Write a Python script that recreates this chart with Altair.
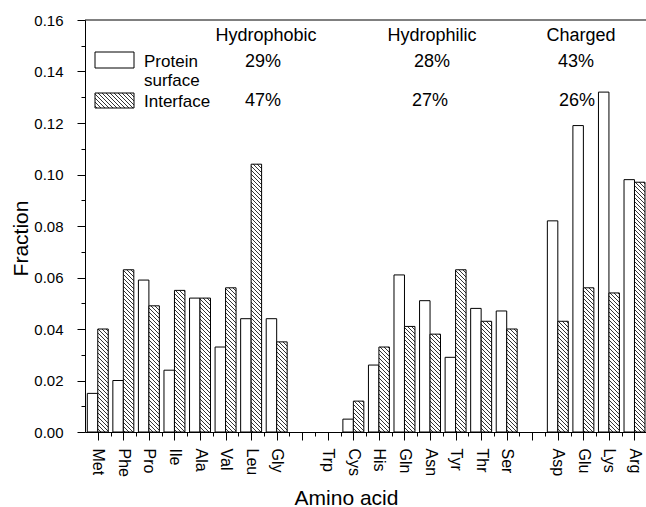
import json
import numpy as np
import pandas as pd
import altair as alt

# ---------------- data ----------------
amino = ["Met", "Phe", "Pro", "Ile", "Ala", "Val", "Leu", "Gly", "",
         "Trp", "Cys", "His", "Gln", "Asn", "Tyr", "Thr", "Ser", "",
         "Asp", "Glu", "Lys", "Arg"]
surface = [0.015, 0.020, 0.059, 0.024, 0.052, 0.033, 0.044, 0.044, None,
           0.0, 0.005, 0.026, 0.061, 0.051, 0.029, 0.048, 0.047, None,
           0.082, 0.119, 0.132, 0.098]
interface = [0.040, 0.063, 0.049, 0.055, 0.052, 0.056, 0.104, 0.035, None,
             0.0, 0.012, 0.033, 0.041, 0.038, 0.063, 0.043, 0.040, None,
             0.043, 0.056, 0.054, 0.097]
groups = ["Hydrophobic", "Hydrophilic", "Charged"]
surface_pct = ["29%", "28%", "43%"]
interface_pct = ["47%", "27%", "26%"]
legend_labels = ["Protein", "surface", "Interface"]

# ---------------- layout ----------------
W, H = 561, 412
PAD_L, PAD_T = 85, 20
XMIN, XMAX = -0.5, 21.45
YMAX = 0.16
BW = 0.41
FONT = "Liberation Sans"
kx = W / (XMAX - XMIN)
ky = H / YMAX

def to_x(u):
    return XMIN + u / kx

def to_y(h):
    return h / ky

def hatch(L, R, B, T, s=4.0):
    segs = []
    c = np.ceil((L + B) / s) * s
    while c < R + T:
        u0 = max(L, c - T)
        u1 = min(R, c - B)
        if u1 > u0 + 0.3:
            segs.append((u0, c - u0, u1, c - u1))
        c += s
    return segs

# bars table
rows = []
for i, (a, s_, f_) in enumerate(zip(amino, surface, interface)):
    if s_ is not None and s_ > 0:
        rows.append({"idx": i, "value": s_, "series": "surface"})
    if f_ is not None and f_ > 0:
        rows.append({"idx": i, "value": f_, "series": "interface"})
bars = pd.DataFrame(rows)

# hatch lines for interface bars (computed from the values via scale factors)
hrows = []
for i, f_ in enumerate(interface):
    if f_ is None or f_ <= 0:
        continue
    L = (i - XMIN) * kx
    R = (i + BW - XMIN) * kx
    for (u0, h0, u1, h1) in hatch(L, R, 0.0, f_ * ky):
        hrows.append({"x": to_x(u0), "y": to_y(h0), "x2": to_x(u1), "y2": to_y(h1)})

# legend boxes (plot pixel coords -> data)
leg_L, leg_R = 10, 49
box_s = (leg_L, leg_R, 432 - 68, 432 - 52)
box_i = (leg_L, leg_R, 432 - 108, 432 - 93)
for (u0, h0, u1, h1) in hatch(*box_i):
    hrows.append({"x": to_x(u0), "y": to_y(h0), "x2": to_x(u1), "y2": to_y(h1)})
hatch_df = pd.DataFrame(hrows)

legend_boxes = pd.DataFrame([
    {"x": to_x(box_s[0]), "x2": to_x(box_s[1]), "y": to_y(box_s[2]), "y2": to_y(box_s[3]), "kind": "s"},
    {"x": to_x(box_i[0]), "x2": to_x(box_i[1]), "y": to_y(box_i[2]), "y2": to_y(box_i[3]), "kind": "i"},
])

# annotation texts (screen px positions)
group_x = [266, 432, 581]
sp_x = [263, 432, 576]
ip_x = [263, 430, 577]
ann = []
for g, gx in zip(groups, group_x):
    ann.append({"t": g, "px": gx - PAD_L, "py": 41 - PAD_T})
for p, px in zip(surface_pct, sp_x):
    ann.append({"t": p, "px": px - PAD_L, "py": 67 - PAD_T})
for p, px in zip(interface_pct, ip_x):
    ann.append({"t": p, "px": px - PAD_L, "py": 106 - PAD_T})
ann_df = pd.DataFrame(ann)
leg_txt = pd.DataFrame({"t": legend_labels,
                        "px": [144 - PAD_L] * 3,
                        "py": [67 - PAD_T, 86 - PAD_T, 107 - PAD_T]})

# ---------------- chart ----------------
xscale = alt.Scale(domain=[XMIN, XMAX], nice=False, zero=False)
yscale = alt.Scale(domain=[0, YMAX], nice=False)

x_vals = [k * 0.5 for k in range(43)]
y_vals = [round(k * 0.01, 2) for k in range(17)]
names_js = json.dumps(amino)

x_axis = alt.Axis(
    values=x_vals,
    labelExpr=f"datum.value % 1 === 0 ? {names_js}[datum.value] : ''",
    labelAngle=90, labelFontSize=16, labelFont=FONT, labelColor="black",
    labelPadding=8,
    tickSize={"condition": {"test": "datum.value % 1 === 0", "value": 8}, "value": 4},
    tickColor="black", domainColor="black", grid=False, labelOverlap=False,
    title="Amino acid", titleFont=FONT, titleFontSize=21, titleFontWeight="normal",
    titleColor="black", titleX=261, titleY=72, titleBaseline="alphabetic",
    titleAlign="center",
)
y_axis = alt.Axis(
    values=y_vals,
    labelExpr="round(datum.value*100) % 2 === 0 ? format(datum.value, '.2f') : ''",
    labelFontSize=15, labelFont=FONT, labelColor="black", labelPadding=14,
    tickSize={"condition": {"test": "round(datum.value*100) % 2 === 0", "value": 8}, "value": 4},
    tickColor="black", domainColor="black", grid=False, labelOverlap=False,
    title="Fraction", titleFont=FONT, titleFontSize=21, titleFontWeight="normal",
    titleColor="black", titleX=-64, titleY=218, titleAngle=-90,
    titleBaseline="middle", titleAlign="center",
)

def X(field):
    return alt.X(field, scale=xscale, axis=x_axis)

def Y(field):
    return alt.Y(field, scale=yscale, axis=y_axis)

base = alt.Chart(bars)

surf_bars = base.transform_filter("datum.series === 'surface'").transform_calculate(
    x0=f"datum.idx - {BW}", x1="datum.idx"
).mark_rect(fill="white", stroke="black", strokeWidth=1).encode(
    x=X("x0:Q"), x2="x1:Q", y=Y("value:Q"), y2=alt.datum(0),
)

int_fill = base.transform_filter("datum.series === 'interface'").transform_calculate(
    x0="datum.idx", x1=f"datum.idx + {BW}"
).mark_rect(fill="white", strokeWidth=0).encode(
    x=X("x0:Q"), x2="x1:Q", y=Y("value:Q"), y2=alt.datum(0),
)

hatch_lines = alt.Chart(hatch_df).mark_rule(color="black", strokeWidth=0.8).encode(
    x=X("x:Q"), x2="x2:Q", y=Y("y:Q"), y2="y2:Q",
)

int_outline = base.transform_filter("datum.series === 'interface'").transform_calculate(
    x0="datum.idx", x1=f"datum.idx + {BW}"
).mark_rect(fillOpacity=0, stroke="black", strokeWidth=1).encode(
    x=X("x0:Q"), x2="x1:Q", y=Y("value:Q"), y2=alt.datum(0),
)

leg_rects = alt.Chart(legend_boxes).mark_rect(fill="white", fillOpacity=0, stroke="black", strokeWidth=1).encode(
    x=X("x:Q"), x2="x2:Q", y=Y("y:Q"), y2="y2:Q",
)

top_frame = alt.Chart(pd.DataFrame({"a": [XMIN], "b": [XMAX], "c": [YMAX]})).mark_rule(
    color="black", strokeWidth=1
).encode(
    x=X("a:Q"), x2="b:Q", y=Y("c:Q")
)

ann_text = alt.Chart(ann_df).mark_text(
    font=FONT, fontSize=18, color="black", align="center", baseline="alphabetic"
).encode(x=alt.X("px:Q", scale=None), y=alt.Y("py:Q", scale=None), text="t:N")

leg_text = alt.Chart(leg_txt).mark_text(
    font=FONT, fontSize=17, color="black", align="left", baseline="alphabetic"
).encode(x=alt.X("px:Q", scale=None), y=alt.Y("py:Q", scale=None), text="t:N")

chart = alt.layer(
    surf_bars, int_fill, hatch_lines, int_outline, leg_rects, top_frame, ann_text, leg_text
).properties(
    width=W, height=H,
    autosize=alt.AutoSizeParams(type="none"),
    padding={"left": PAD_L, "top": PAD_T, "right": 0, "bottom": 507 - PAD_T - H},
    background="white",
).configure_view(stroke=None)

chart.save("out.html", embed_options={"renderer": "svg", "actions": False})
